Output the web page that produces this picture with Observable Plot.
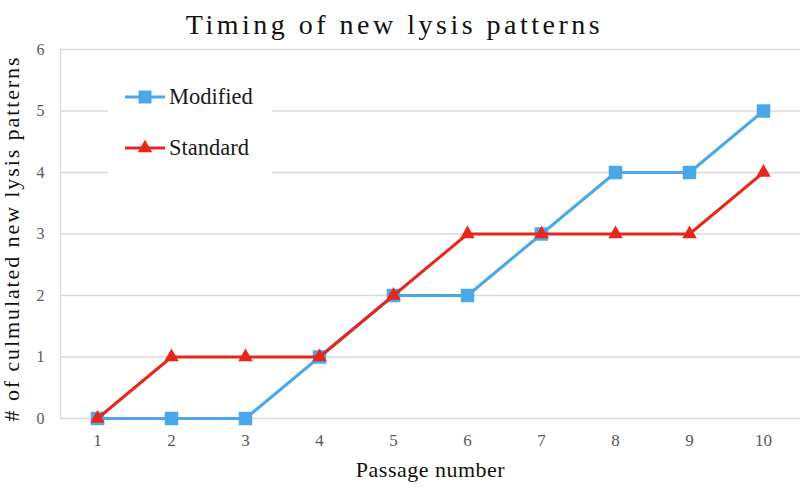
<!DOCTYPE html>
<html>
<head>
<meta charset="utf-8">
<script src="https://cdn.jsdelivr.net/npm/d3@7"></script>
<script src="https://cdn.jsdelivr.net/npm/@observablehq/plot@0.6"></script>
<style>
  html, body { margin: 0; padding: 0; background: white; }
  #wrap { position: relative; width: 800px; height: 489px; font-family: "Liberation Serif", "DejaVu Serif", serif; }
  #wrap svg text { font-family: "Liberation Serif", "DejaVu Serif", serif; }
  #legend { position: absolute; left: 108px; top: 65px; width: 164px; height: 113px; background: white; }
  .row { position: absolute; left: 0; height: 24px; display: flex; align-items: center; }
  .row span { font-family: "Liberation Serif", "DejaVu Serif", serif; font-size: 22.5px; color: #1a1a1a; margin-left: 3px; }
</style>
</head>
<body>
<div id="wrap"></div>
<script>
const title = "Timing of new lysis patterns";
const xLabel = "Passage number";
const yLabel = "# of culmulated new lysis patterns";
const passages = [1, 2, 3, 4, 5, 6, 7, 8, 9, 10];
const modified = [0, 0, 0, 1, 2, 2, 3, 4, 4, 5];
const standard = [0, 1, 1, 1, 2, 3, 3, 3, 3, 4];
const yTicks = [0, 1, 2, 3, 4, 5, 6];
const seriesNames = ["Modified", "Standard"];
const colors = {Modified: "#4aa8e8", Standard: "#e8271c"};
const symbols = {Modified: "square", Standard: "triangle"};

const font = "Liberation Serif, DejaVu Serif, serif";

const data = [
  ...passages.map((p, i) => ({passage: p, value: modified[i], series: "Modified"})),
  ...passages.map((p, i) => ({passage: p, value: standard[i], series: "Standard"}))
];
const dataMod = data.filter(d => d.series === "Modified");
const dataStd = data.filter(d => d.series === "Standard");

const chart = Plot.plot({
  width: 800,
  height: 489,
  marginLeft: 60,
  marginRight: 0,
  marginTop: 49,
  marginBottom: 71,
  style: {fontFamily: font, fontSize: "16px", background: "white"},
  x: {domain: [0.5, 10.5], label: null},
  y: {domain: [0, 6], label: null},
  marks: [
    Plot.ruleY(yTicks, {stroke: "#d9d9d9", strokeWidth: 1.3}),
    Plot.ruleX([0.5], {y1: 0, y2: 6, stroke: "#d9d9d9", strokeWidth: 1.3}),
    Plot.axisX(passages, {tickSize: 0, tickPadding: 15, fontSize: 17, fontFamily: font, fill: "#595959", tickFormat: d => String(d), label: null}),
    Plot.axisY(yTicks, {tickSize: 0, tickPadding: 16, fontSize: 16, fontFamily: font, fill: "#595959", tickFormat: d => String(d), label: null}),
    Plot.line(dataMod, {x: "passage", y: "value", stroke: colors.Modified, strokeWidth: 3}),
    Plot.dot(dataMod, {x: "passage", y: "value", symbol: symbols.Modified, r: 7.6, fill: colors.Modified}),
    Plot.line(dataStd, {x: "passage", y: "value", stroke: colors.Standard, strokeWidth: 3}),
    Plot.dot(dataStd, {x: "passage", y: "value", symbol: symbols.Standard, r: 5.4, fill: colors.Standard}),
    Plot.text([title], {frameAnchor: "top", dx: -36, dy: -35.5, fontSize: 28, fontFamily: font, fill: "#111"}),
    Plot.text([xLabel], {frameAnchor: "bottom", dy: 58, fontSize: 22, fontFamily: font, fill: "#111"}),
    Plot.text([yLabel], {frameAnchor: "left", dx: -49, dy: 4.5, rotate: -90, textAnchor: "middle", fontSize: 22, fontFamily: font, fill: "#111"})
  ]
});

// letter spacing for titles (not a Plot text option)
const spacing = {[title]: "3.5px", [xLabel]: "0.5px", [yLabel]: "1.9px"};
d3.select(chart).selectAll("text").each(function() {
  const s = spacing[this.textContent];
  if (s) d3.select(this).style("letter-spacing", s);
});

const wrap = document.getElementById("wrap");
wrap.appendChild(chart);

// Legend (overlay box, white background covering gridlines)
const legend = document.createElement("div");
legend.id = "legend";
const rowTops = [20, 71];
seriesNames.forEach((name, i) => {
  const row = document.createElement("div");
  row.className = "row";
  row.style.top = rowTops[i] + "px";
  row.style.left = "16px";
  const s = d3.create("svg").attr("width", 42).attr("height", 24);
  s.append("line").attr("x1", 1).attr("x2", 41).attr("y1", 12).attr("y2", 12)
    .attr("stroke", colors[name]).attr("stroke-width", 3);
  const sym = symbols[name] === "square" ? d3.symbolSquare : d3.symbolTriangle;
  const size = symbols[name] === "square" ? 169 : 90;
  s.append("path").attr("d", d3.symbol(sym, size)()).attr("transform", "translate(21,12)")
    .attr("fill", colors[name]);
  row.appendChild(s.node());
  const t = document.createElement("span");
  t.textContent = name;
  row.appendChild(t);
  legend.appendChild(row);
});
wrap.appendChild(legend);
</script>
</body>
</html>
